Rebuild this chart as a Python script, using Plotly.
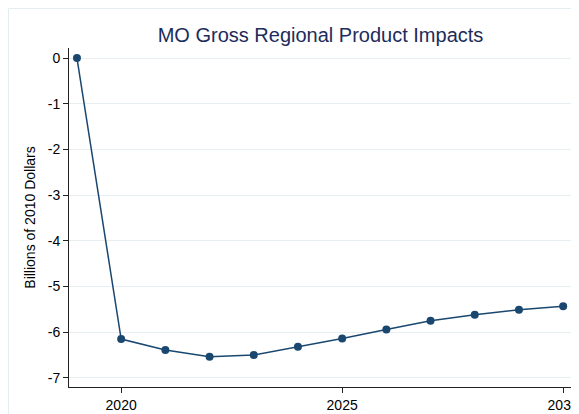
import plotly.graph_objects as go

years = [2019, 2020, 2021, 2022, 2023, 2024, 2025, 2026, 2027, 2028, 2029, 2030]
impacts = [0.0, -6.15, -6.39, -6.54, -6.50, -6.32, -6.14, -5.94, -5.75, -5.62, -5.51, -5.43]
x_ticks = [2020, 2025, 2030]
y_ticks = [0, -1, -2, -3, -4, -5, -6, -7]
y_labels = ["0", "-1", "-2", "-3", "-4", "-5", "-6", "-7"]

navy = "#1a476f"

W, H = 571, 406
L, R, T, B = 61, 7, 40, 27
PW, PH = W - L - R, H - T - B

fig = go.Figure()
fig.add_trace(go.Scatter(
    x=years, y=impacts, mode="lines+markers",
    line=dict(color=navy, width=1.5),
    marker=dict(color=navy, size=8),
    showlegend=False,
))

fig.update_layout(
    width=W, height=H,
    margin=dict(l=L, r=R, t=T, b=B, autoexpand=False),
    paper_bgcolor="white", plot_bgcolor="white",
    font=dict(family="Liberation Sans, Arial", size=14, color="#000000"),
    title=dict(text="MO Gross Regional Product Impacts", x=(L + PW / 2) / W, xanchor="center",
               y=1 - 27 / H, yanchor="middle",
               font=dict(size=20, color="#1c2c5c")),
    xaxis=dict(range=[2018.82, 2030.2], tickvals=x_ticks, showgrid=False,
               showline=True, linecolor="#222222", linewidth=1, automargin=False,
               ticks="outside", ticklen=5, tickcolor="#222222", zeroline=False),
    yaxis=dict(range=[-7.2, 0.22], tickvals=y_ticks, ticktext=y_labels, showgrid=True,
               gridcolor="#e8eff3", gridwidth=1, automargin=False,
               showline=True, linecolor="#222222", linewidth=1,
               ticks="outside", ticklen=5, tickcolor="#222222", zeroline=False,
               title=dict(text="Billions of 2010 Dollars", standoff=8,
                          font=dict(size=14))),
    shapes=[dict(type="rect", xref="paper", yref="paper",
                 x0=(-L + 0.5) / PW, x1=1 + (R + 5) / PW,
                 y0=-(B + 5) / PH, y1=1 + (T - 0.5) / PH,
                 line=dict(color="#e2eef0", width=1))],
)

fig.write_html("out.html")
